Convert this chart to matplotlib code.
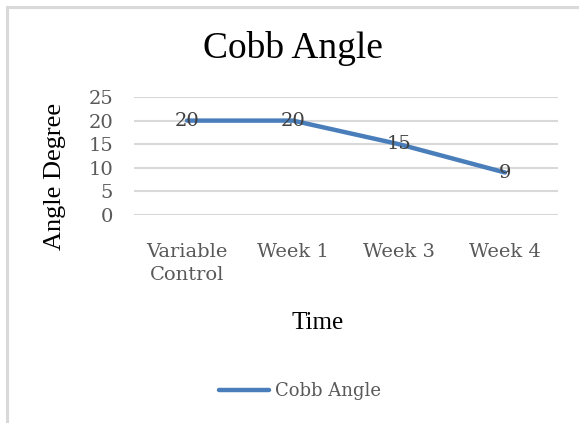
import matplotlib
matplotlib.use('Agg')
import matplotlib.pyplot as plt
from matplotlib.patches import Rectangle

categories = ['Variable\nControl', 'Week 1', 'Week 3', 'Week 4']
cobb_angle = [20, 20, 15, 9]
y_ticks = [0, 5, 10, 15, 20, 25]

BLUE = '#4a7ebb'
GREY_TXT = '#595959'
TICK_FONT = 'DejaVu Serif'
TITLE_FONT = 'Liberation Serif'
W, H = 579, 423

fig = plt.figure(figsize=(5.79, 4.23), dpi=100)
fig.patch.set_facecolor('white')

# outer chart border (light grey, runs off right/bottom edge)
fig.patches.append(Rectangle((7 / W, -0.05), 1.0, (H - 7) / H + 0.05,
                             transform=fig.transFigure, fill=False,
                             edgecolor='#d9d9d9', linewidth=2.2))

ax = fig.add_axes([134 / W, (H - 215) / H, 424 / W, 118 / H])
x = list(range(len(categories)))
ax.plot(x, cobb_angle, color=BLUE, linewidth=3.2, solid_capstyle='round',
        label='Cobb Angle', zorder=3)
for xi, v in zip(x, cobb_angle):
    ax.text(xi, v, str(v), ha='center', va='center', fontsize=14,
            family=TICK_FONT, color='#404040', zorder=4)

ax.set_xlim(-0.5, len(categories) - 0.5)
ax.set_ylim(0, 25)
ax.set_yticks(y_ticks)
ax.set_xticks(x)
ax.set_xticklabels(categories, fontsize=14, family=TICK_FONT, color=GREY_TXT,
                   linespacing=1.34)
ax.set_yticklabels([str(t) for t in y_ticks], fontsize=14, family=TICK_FONT,
                   color=GREY_TXT)
ax.tick_params(length=0)
ax.tick_params(axis='x', pad=20)
ax.tick_params(axis='y', pad=15)
ax.grid(axis='y', color='#d9d9d9', linewidth=1.5)
ax.set_axisbelow(True)
for s in ax.spines.values():
    s.set_visible(False)

fig.text(55 / W, 1 - 176 / H, 'Angle Degree', rotation=90, ha='center',
         va='center', fontsize=19, family=TITLE_FONT)
fig.text(318 / W, 1 - 323 / H, 'Time', ha='center', va='center',
         fontsize=18, family=TITLE_FONT)
fig.text(293 / W, 1 - 48 / H, 'Cobb Angle', ha='center', va='center',
         fontsize=27, family=TITLE_FONT)

leg = fig.legend(loc='center', bbox_to_anchor=(300 / W, 1 - 391 / H),
                 frameon=False, prop={'family': TICK_FONT, 'size': 13},
                 handlelength=2.8, handletextpad=0.35)
for t in leg.get_texts():
    t.set_color(GREY_TXT)

fig.savefig('out.png', dpi=100, facecolor='white')
